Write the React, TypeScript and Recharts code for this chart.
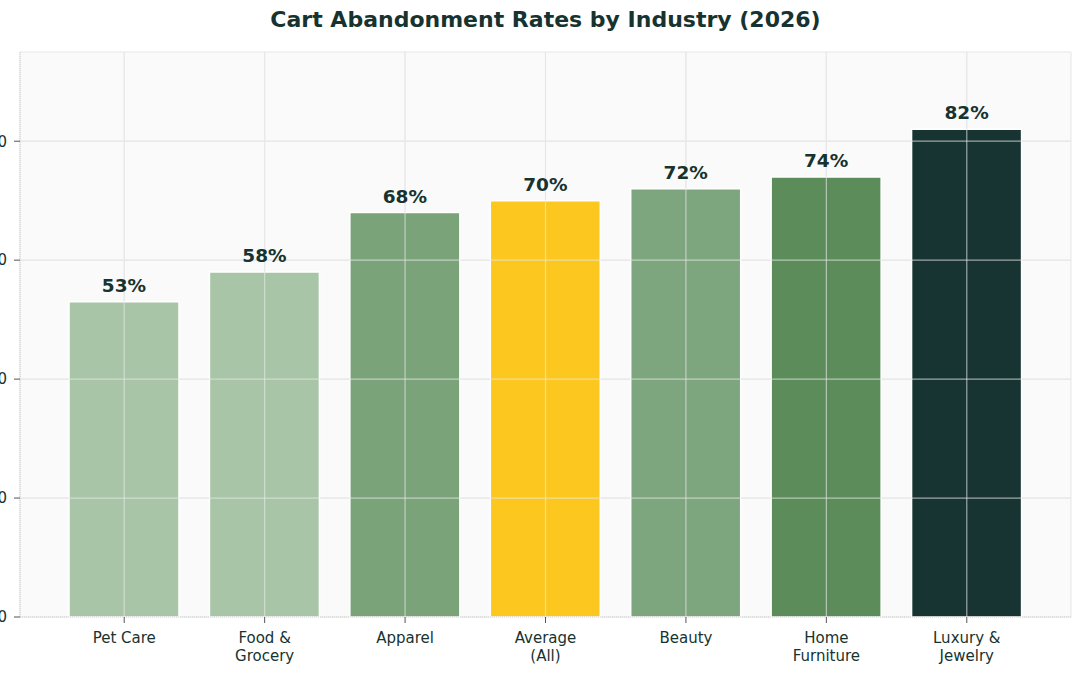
import { Bar, BarChart, CartesianGrid, Cell, LabelList, ReferenceLine, XAxis, YAxis } from 'recharts'

const INDUSTRIES = [
  'Pet Care',
  'Food &\nGrocery',
  'Apparel',
  'Average\n(All)',
  'Beauty',
  'Home\nFurniture',
  'Luxury &\nJewelry',
]
const RATES = [53, 58, 68, 70, 72, 74, 82]
const Y_TICKS = [0, 20, 40, 60, 80]

const COLORS = ['#a8c6a7', '#a8c6a7', '#7ba37a', '#fcc820', '#7ea67e', '#5b8c5a', '#173432']
const TEXT = '#17332f'
const FONT = '"DejaVu Sans", sans-serif'

const data = INDUSTRIES.map((name, i) => ({ name, rate: RATES[i] }))

function IndustryTick({ x, y, payload }: any) {
  const lines = String(payload.value).split('\n')
  return (
    <text x={x} y={y} textAnchor="middle" fill={TEXT} fontSize={15} fontFamily={FONT}>
      {lines.map((line, i) => (
        <tspan key={i} x={x} dy={i === 0 ? 18 : 18}>
          {line}
        </tspan>
      ))}
    </text>
  )
}

export default function App() {
  return (
    <div style={{ position: 'absolute', left: 0, top: 0, width: 1080, height: 675, background: '#fff', overflow: 'hidden' }}>
      <div
        style={{
          position: 'absolute',
          top: 7,
          left: 0,
          width: 1091,
          textAlign: 'center',
          fontFamily: FONT,
          fontWeight: 'bold',
          fontSize: 22,
          color: TEXT,
        }}
      >
        Cart Abandonment Rates by Industry (2026)
      </div>
      <BarChart
        width={1080}
        height={675}
        data={data}
        margin={{ top: 52, right: 9, bottom: 0, left: 0 }}
        style={{ fontFamily: FONT }}
      >
        <CartesianGrid fill="#fafafa" stroke="#e6e6e6" />
        <XAxis
          dataKey="name"
          interval={0}
          height={58}
          padding={{ left: 34, right: 34 }}
          tick={<IndustryTick />}
          tickSize={6}
          tickLine={{ stroke: '#555' }}
          axisLine={{ stroke: '#cccccc', strokeDasharray: '1 1' }}
        />
        <YAxis
          width={20}
          domain={[0, 95]}
          ticks={Y_TICKS}
          tickSize={6}
          tickMargin={7}
          tick={{ fill: TEXT, fontSize: 15, fontFamily: FONT }}
          tickLine={{ stroke: '#555' }}
          axisLine={{ stroke: '#cccccc', strokeDasharray: '1 1' }}
        />
        <Bar dataKey="rate" barSize={110} stroke="#ffffff" strokeWidth={1.5} isAnimationActive={false}>
          {data.map((d, i) => (
            <Cell key={d.name} fill={COLORS[i]} />
          ))}
          <LabelList
            dataKey="rate"
            position="top"
            offset={10}
            formatter={(v: any) => `${v}%`}
            fill={TEXT}
            fontSize={18.5}
            fontWeight="bold"
            fontFamily={FONT}
          />
        </Bar>
        {Y_TICKS.slice(1).map((t) => (
          <ReferenceLine key={t} y={t} stroke="#e6e6e6" strokeOpacity={0.65} strokeWidth={1.2} />
        ))}
        {INDUSTRIES.map((c) => (
          <ReferenceLine key={c} x={c} stroke="#e6e6e6" strokeOpacity={0.65} strokeWidth={1.2} />
        ))}
      </BarChart>
    </div>
  )
}
